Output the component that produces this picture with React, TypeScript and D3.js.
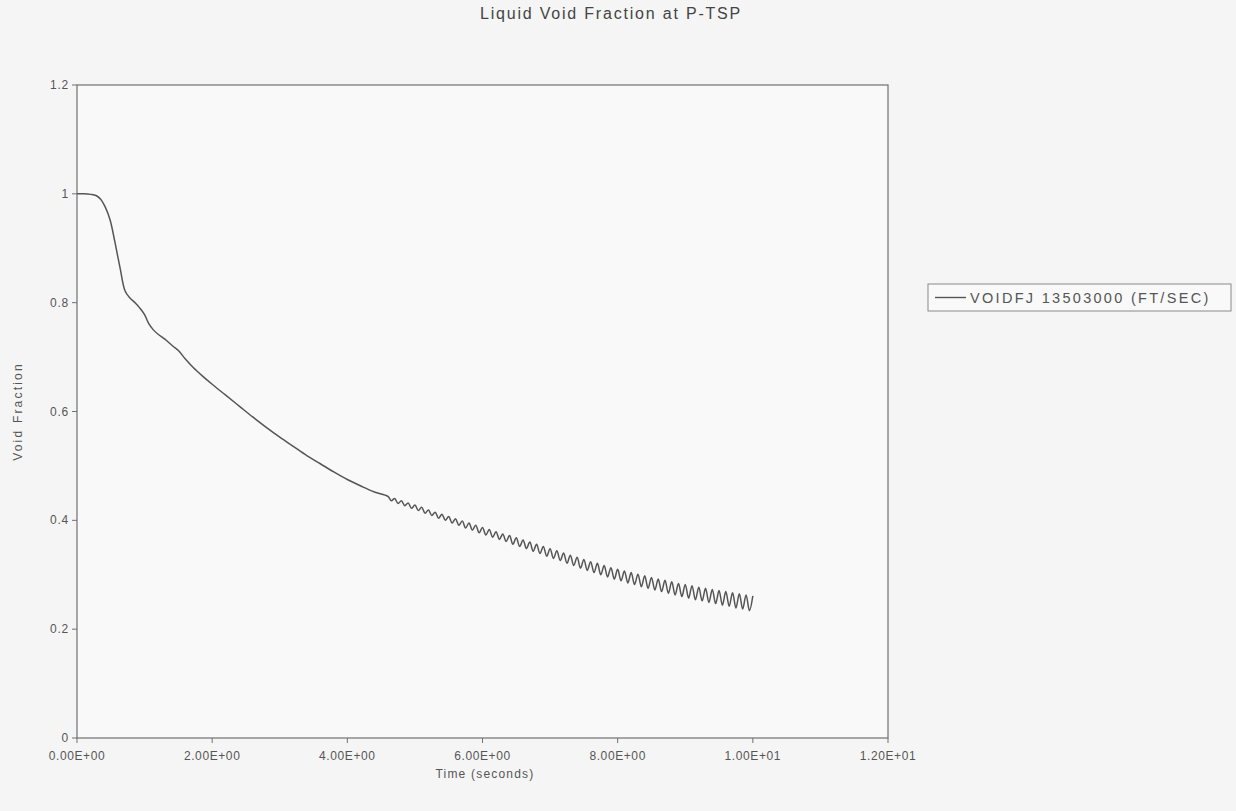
import React from "react";
import * as d3 from "d3";

const title = "Liquid Void Fraction at P-TSP";
const xTitle = "Time (seconds)";
const yTitle = "Void Fraction";
const seriesName = "VOIDFJ 13503000 (FT/SEC)";

const xTicks = [0, 2, 4, 6, 8, 10, 12];
const yTicks = [0, 0.2, 0.4, 0.6, 0.8, 1.0, 1.2];

// smooth early part of the transient [time, void fraction]
const smoothPart: [number, number][] = [
  [0, 1.0], [0.1, 1.0], [0.2, 0.999], [0.28, 0.997], [0.35, 0.99], [0.42, 0.975],
  [0.49, 0.952], [0.56, 0.912], [0.64, 0.862], [0.71, 0.822], [0.78, 0.809],
  [0.86, 0.8], [0.93, 0.79], [1.0, 0.778], [1.06, 0.762], [1.13, 0.75],
  [1.2, 0.742], [1.3, 0.733], [1.42, 0.72], [1.5, 0.712], [1.6, 0.697],
  [1.72, 0.681], [1.85, 0.666], [2.0, 0.65], [2.2, 0.63], [2.4, 0.61],
  [2.6, 0.59], [2.8, 0.571], [3.0, 0.553], [3.2, 0.536], [3.4, 0.519],
  [3.6, 0.504], [3.8, 0.489], [4.0, 0.475], [4.2, 0.463], [4.4, 0.452],
];

// oscillating late part [time, void fraction]
const oscPart: [number, number][] = [
  [4.6, 0.444], [4.65, 0.436], [4.7, 0.44], [4.75, 0.431], [4.8, 0.436],
  [4.85, 0.427], [4.9, 0.432], [4.95, 0.422], [5.0, 0.428], [5.05, 0.418],
  [5.1, 0.424], [5.15, 0.413], [5.2, 0.419], [5.25, 0.409], [5.3, 0.415],
  [5.35, 0.404], [5.4, 0.411], [5.45, 0.4], [5.5, 0.407], [5.55, 0.395],
  [5.6, 0.403], [5.65, 0.391], [5.7, 0.399], [5.75, 0.386], [5.8, 0.395],
  [5.85, 0.382], [5.9, 0.391], [5.95, 0.377], [6.0, 0.387], [6.05, 0.373],
  [6.1, 0.383], [6.15, 0.369], [6.2, 0.379], [6.25, 0.365], [6.3, 0.375],
  [6.35, 0.361], [6.4, 0.372], [6.45, 0.356], [6.5, 0.368], [6.55, 0.352],
  [6.6, 0.364], [6.65, 0.348], [6.7, 0.36], [6.75, 0.343], [6.8, 0.356],
  [6.85, 0.339], [6.9, 0.352], [6.95, 0.334], [7.0, 0.348], [7.05, 0.33],
  [7.1, 0.344], [7.15, 0.326], [7.2, 0.34], [7.25, 0.321], [7.3, 0.336],
  [7.35, 0.317], [7.4, 0.332], [7.45, 0.312], [7.5, 0.328], [7.55, 0.308],
  [7.6, 0.324], [7.65, 0.304], [7.7, 0.321], [7.75, 0.3], [7.8, 0.317],
  [7.85, 0.296], [7.9, 0.313], [7.95, 0.292], [8.0, 0.31], [8.05, 0.289],
  [8.1, 0.307], [8.15, 0.285], [8.2, 0.304], [8.25, 0.282], [8.3, 0.301],
  [8.35, 0.278], [8.4, 0.298], [8.45, 0.275], [8.5, 0.295], [8.55, 0.272],
  [8.6, 0.292], [8.65, 0.269], [8.7, 0.29], [8.75, 0.266], [8.8, 0.287],
  [8.85, 0.263], [8.9, 0.284], [8.95, 0.26], [9.0, 0.282], [9.05, 0.257],
  [9.1, 0.28], [9.15, 0.254], [9.2, 0.277], [9.25, 0.252], [9.3, 0.275],
  [9.35, 0.249], [9.4, 0.273], [9.45, 0.247], [9.5, 0.271], [9.55, 0.244],
  [9.6, 0.269], [9.65, 0.242], [9.7, 0.267], [9.75, 0.239], [9.8, 0.265],
  [9.85, 0.237], [9.9, 0.263], [9.95, 0.234], [10.0, 0.261],
];

const W = 1236;
const H = 811;
const plot = { left: 77, right: 888, top: 85, bottom: 738 };

const fmtX = (v: number) => {
  const s = v.toExponential(2).toUpperCase();
  const m = s.match(/^(-?[\d.]+)E([+-])(\d+)$/);
  if (!m) return s;
  return `${m[1]}E${m[2]}${m[3].padStart(2, "0")}`;
};
const fmtY = (v: number) => d3.format("~g")(+v.toFixed(2));

export default function App() {
  const x = d3.scaleLinear().domain([0, 12]).range([plot.left, plot.right]);
  const y = d3.scaleLinear().domain([0, 1.2]).range([plot.bottom, plot.top]);
  const data = [...smoothPart, ...oscPart];
  const line = d3
    .line<[number, number]>()
    .x((d) => x(d[0]))
    .y((d) => y(d[1]))
    .curve(d3.curveCatmullRom.alpha(0.5));

  const font = "'Liberation Sans', Arial, sans-serif";
  const textColor = "#555";
  const axisColor = "#707070";

  return (
    <svg
      width={W}
      height={H}
      style={{ position: "absolute", left: 0, top: 0, background: "#f5f5f5" }}
      fontFamily={font}
    >
      <rect x={0} y={0} width={W} height={H} fill="#f5f5f5" />
      <text x={611} y={19} textAnchor="middle" fontSize={16} fill="#444" letterSpacing={1.8}>
        {title}
      </text>
      <rect
        x={plot.left}
        y={plot.top}
        width={plot.right - plot.left}
        height={plot.bottom - plot.top}
        fill="#f9f9f9"
        stroke={axisColor}
        strokeWidth={1.2}
      />
      {yTicks.map((t) => (
        <g key={"y" + t}>
          <line x1={plot.left - 5} x2={plot.left} y1={y(t)} y2={y(t)} stroke={axisColor} strokeWidth={1} />
          <text x={plot.left - 8} y={y(t) + 4} textAnchor="end" fontSize={12} fill={textColor} letterSpacing={0.8}>
            {fmtY(t)}
          </text>
        </g>
      ))}
      {xTicks.map((t) => (
        <g key={"x" + t}>
          <line x1={x(t)} x2={x(t)} y1={plot.bottom} y2={plot.bottom + 5} stroke={axisColor} strokeWidth={1} />
          <text x={x(t)} y={plot.bottom + 22} textAnchor="middle" fontSize={12} fill={textColor} letterSpacing={0.6}>
            {fmtX(t)}
          </text>
        </g>
      ))}
      <text x={485} y={778} textAnchor="middle" fontSize={12} fill={textColor} letterSpacing={1.2}>
        {xTitle}
      </text>
      <text
        transform={`translate(22, ${(plot.top + plot.bottom) / 2}) rotate(-90)`}
        textAnchor="middle"
        fontSize={12}
        fill={textColor}
        letterSpacing={2.2}
      >
        {yTitle}
      </text>
      <path d={line(data) || ""} fill="none" stroke="#555" strokeWidth={1.5} strokeLinejoin="round" />
      <g>
        <rect x={928} y={284} width={303} height={27} fill="#f9f9f9" stroke="#8a8a8a" strokeWidth={1} />
        <line x1={935} x2={966} y1={297.5} y2={297.5} stroke="#555" strokeWidth={1.4} />
        <text x={970} y={302.5} fontSize={14.5} fill={textColor} letterSpacing={2.3}>
          {seriesName}
        </text>
      </g>
    </svg>
  );
}
